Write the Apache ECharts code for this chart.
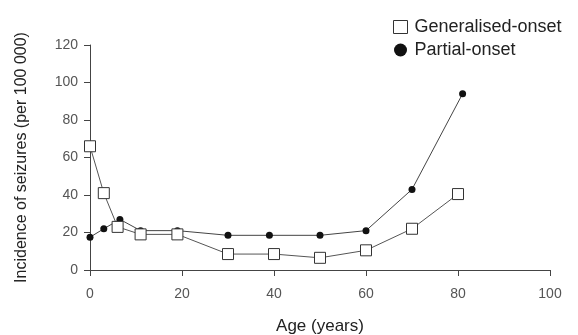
<!DOCTYPE html>
<html><head><meta charset="utf-8">
<script src="https://cdn.jsdelivr.net/npm/echarts@6/dist/echarts.min.js"></script>
<style>html,body{margin:0;padding:0;background:#fff}#c{width:578px;height:335px}</style>
</head><body><div id="c"></div>
<script>
var ages = [0, 3, 6, 11, 19, 30, 40, 50, 60, 70, 80];
var generalised = [66, 41, 23, 19, 19, 8.5, 8.5, 6.5, 10.5, 22, 40.5];
var partialAges = [0, 3, 6.5, 11, 19, 30, 39, 50, 60, 70, 81];
var partial = [17.5, 22, 27, 21, 21, 18.5, 18.5, 18.5, 21, 43, 94];
var xTicks = [0, 20, 40, 60, 80, 100];
var yTicks = [0, 20, 40, 60, 80, 100, 120];

var chart = echarts.init(document.getElementById('c'));
var txt = '#555';
var font = 'Liberation Sans, Arial, sans-serif';
chart.setOption({
  animation: false,
  textStyle: {fontFamily: font},
  grid: {left: 90, right: 28, top: 45, bottom: 65, containLabel: false, outerBoundsMode: 'none'},
  legend: {
    orient: 'vertical', left: 388, top: 13, itemGap: 5,
    itemWidth: 14, itemHeight: 13,
    textStyle: {fontSize: 18, color: '#222', fontFamily: font, padding: [0, 0, 0, 2]},
    data: [
      {name: 'Generalised-onset', icon: 'rect', itemStyle: {color: '#fff', borderColor: '#333', borderWidth: 1}},
      {name: 'Partial-onset', icon: 'circle', itemStyle: {color: '#111'}}
    ]
  },
  xAxis: {
    type: 'value', min: xTicks[0], max: xTicks[xTicks.length - 1], interval: 20,
    name: 'Age (years)', nameLocation: 'middle', nameGap: 48,
    nameTextStyle: {fontSize: 17, color: '#222', verticalAlign: 'top'},
    axisLine: {lineStyle: {color: '#444', width: 1}},
    axisTick: {show: true, length: 6, lineStyle: {color: '#444'}},
    axisLabel: {color: txt, fontSize: 14, margin: 17},
    splitLine: {show: false}
  },
  yAxis: {
    type: 'value', min: yTicks[0], max: yTicks[yTicks.length - 1], interval: 20,
    name: 'Incidence of seizures (per 100 000)', nameLocation: 'middle', nameGap: 60,
    nameTextStyle: {fontSize: 16, color: '#222', verticalAlign: 'bottom'},
    axisLine: {show: true, lineStyle: {color: '#444', width: 1}},
    axisTick: {show: true, length: 6, lineStyle: {color: '#444'}},
    axisLabel: {color: txt, fontSize: 14, margin: 12},
    splitLine: {show: false}
  },
  series: [
    {
      name: 'Generalised-onset', type: 'line',
      data: ages.map(function (a, i) { return [a, generalised[i]]; }),
      symbol: 'rect', symbolSize: 11,
      itemStyle: {color: '#fff', borderColor: '#333', borderWidth: 1},
      lineStyle: {color: '#555', width: 1}, z: 3
    },
    {
      name: 'Partial-onset', type: 'line',
      data: partialAges.map(function (a, i) { return [a, partial[i]]; }),
      symbol: 'circle', symbolSize: 7,
      itemStyle: {color: '#111'},
      lineStyle: {color: '#444', width: 1}, z: 2
    }
  ]
});
</script></body></html>
